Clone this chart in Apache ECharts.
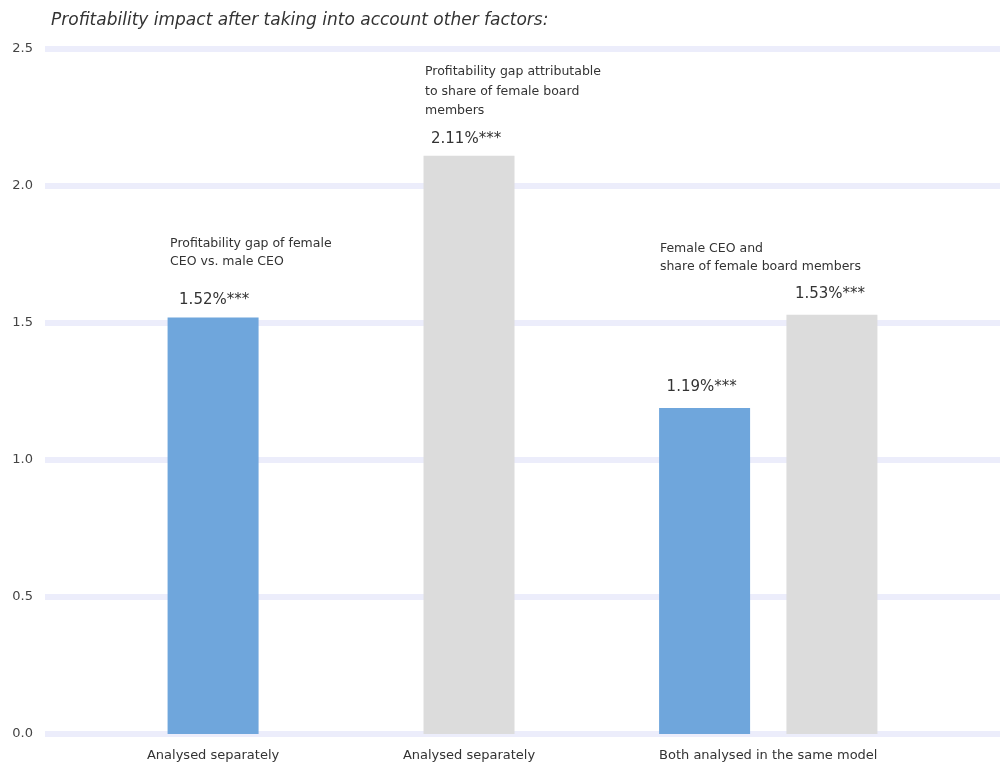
<!DOCTYPE html>
<html>
<head>
<meta charset="utf-8">
<title>Profitability impact</title>
<script src="https://cdn.jsdelivr.net/npm/echarts@6/dist/echarts.min.js"></script>
<style>
  html, body { margin: 0; padding: 0; background: #ffffff; }
  #chart { width: 1000px; height: 768px; }
</style>
</head>
<body>
<div id="chart"></div>
<script>
// ---- data ----
const groupLabels = ['Analysed separately', 'Analysed separately', 'Both analysed in the same model'];
const femaleCeoGap = [1.52, null, 1.19];      // blue bars
const boardShareGap = [null, 2.11, 1.53];     // grey bars
const femaleCeoCaptions = [['Profitability gap of female', 'CEO vs. male CEO'], null, null];
const boardShareCaptions = [null, ['Profitability gap attributable', 'to share of female board', 'members'], ['Female CEO and', 'share of female board members']];
const yMin = 0, yMax = 2.5, yStep = 0.5;

// ---- layout (axis units along the x value axis) ----
const xMax = 7.5;
const groupCenters = [1.32, 3.33, 5.68];
const pairOffset = 0.5;

const BLUE = '#6fa6dc';
const GREY = '#dcdcdc';
const TEXT = '#333333';
const FONT = '"DejaVu Sans", Verdana, sans-serif';

function barX(groupIdx, isBlue) {
  const both = femaleCeoGap[groupIdx] != null && boardShareGap[groupIdx] != null;
  if (!both) return groupCenters[groupIdx];
  return groupCenters[groupIdx] + (isBlue ? -pairOffset : pairOffset);
}

function valueText(v) { return v.toFixed(2) + '%***'; }

// label above a bar: optional caption lines, then the value
function barLabel(value, caption, opts) {
  const parts = [];
  if (caption) {
    caption.forEach(line => parts.push('{cap|' + line + '}'));
    parts.push('{sp| }');
  }
  parts.push('{val|' + valueText(value) + '}');
  return {
    show: true,
    position: 'top',
    align: 'left',
    distance: opts.distance,
    offset: [opts.dx, 0],
    formatter: parts.join('\n'),
    rich: {
      cap: { fontFamily: FONT, fontSize: 12.5, color: TEXT, lineHeight: opts.capLH || 18 },
      sp: { fontSize: 4, lineHeight: opts.gap || 8 },
      val: { fontFamily: FONT, fontSize: 15, color: TEXT, lineHeight: 20, padding: [0, 0, 0, opts.valPad] }
    }
  };
}

const labelOpts = {
  blue: [
    { dx: -43, valPad: 9, distance: 7, gap: 20, capLH: 18 },
    null,
    { dx: -45, valPad: 7, distance: 11 }
  ],
  grey: [
    null,
    { dx: -44, valPad: 6, distance: 7, gap: 8, capLH: 19.5 },
    { dx: -172, valPad: 135, distance: 11, gap: 8, capLH: 18 }
  ]
};

const blueData = [];
const greyData = [];
groupLabels.forEach((g, i) => {
  if (femaleCeoGap[i] != null) {
    blueData.push({ value: [barX(i, true), femaleCeoGap[i]], label: barLabel(femaleCeoGap[i], femaleCeoCaptions[i], labelOpts.blue[i]) });
  }
  if (boardShareGap[i] != null) {
    greyData.push({ value: [barX(i, false), boardShareGap[i]], label: barLabel(boardShareGap[i], boardShareCaptions[i], labelOpts.grey[i]) });
  }
});

const chart = echarts.init(document.getElementById('chart'), null, { renderer: 'canvas' });
chart.setOption({
  backgroundColor: '#ffffff',
  animation: false,
  title: {
    text: 'Profitability impact after taking into account other factors:',
    left: 46,
    top: 7,
    textStyle: { fontFamily: FONT, fontSize: 17, fontStyle: 'italic', fontWeight: 'normal', color: TEXT }
  },
  grid: { left: 45, right: 0, top: 49, bottom: 34 },
  xAxis: {
    type: 'value',
    min: 0,
    max: xMax,
    splitLine: { show: false },
    axisLine: { show: false },
    axisTick: { show: false },
    axisLabel: {
      customValues: groupCenters,
      margin: 15,
      fontFamily: FONT,
      fontSize: 13,
      color: TEXT,
      formatter: function (v) {
        const idx = groupCenters.findIndex(c => Math.abs(c - v) < 1e-6);
        return idx >= 0 ? groupLabels[idx] : '';
      }
    }
  },
  yAxis: {
    type: 'value',
    min: yMin,
    max: yMax,
    interval: yStep,
    axisLine: { show: false },
    axisTick: { show: false },
    axisLabel: {
      margin: 12,
      fontFamily: FONT,
      fontSize: 13,
      color: '#444444',
      formatter: v => v.toFixed(1)
    },
    splitLine: { show: true, lineStyle: { color: '#ecedfb', width: 6 } }
  },
  series: [
    {
      name: 'Female CEO',
      type: 'bar',
      barWidth: 91,
      itemStyle: { color: BLUE },
      data: blueData
    },
    {
      name: 'Share of female board members',
      type: 'bar',
      barWidth: 91,
      barGap: '-100%',
      itemStyle: { color: GREY },
      data: greyData
    }
  ]
});
</script>
</body>
</html>
